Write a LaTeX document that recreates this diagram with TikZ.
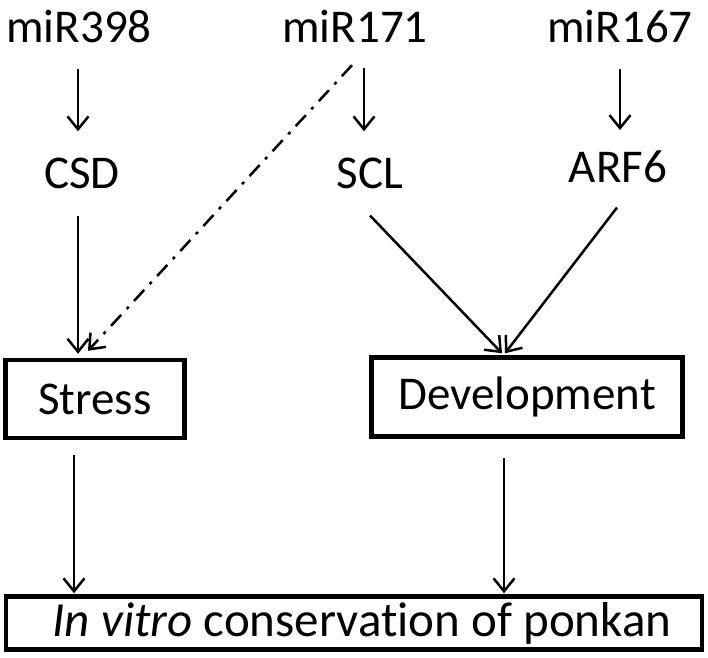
\documentclass[tikz,border=0pt]{standalone}
\usepackage{fontspec}
\setmainfont{Carlito}[Ligatures=NoCommon]
\usepackage{tikz}
\usetikzlibrary{positioning, arrows.meta}
\tikzset{
    labnode/.style={inner sep=0pt, anchor=base, font=\fontsize{47}{52}\selectfont},
    boxnode/.style={draw, line width=4.5pt, inner sep=0pt, font=\fontsize{47}{52}\selectfont},
    arr/.style={line width=2.5pt, -{Straight Barb[length=13pt, width=21pt, line width=2.5pt]}},
    dasharr/.style={arr, dash pattern=on 15pt off 8pt on 3pt off 8pt}
}

\begin{document}
\begin{tikzpicture}[x=1pt, y=-1pt]
    \useasboundingbox (0,0) rectangle (708,657);
    % microRNAs
    \node[labnode] (mir398) at (79,42) {miR398};
    \node[labnode] (mir171) at (355,42) {miR171};
    \node[labnode] (mir167) at (620,42) {miR167};
    % targets
    \node[labnode] (csd) at (82,188) {CSD};
    \node[labnode] (scl) at (370,188) {SCL};
    \node[labnode] (arf6) at (618,182) {ARF6};
    % processes
    \node[boxnode, minimum width=179pt, minimum height=78pt] (stress) at (95,399) {Stress};
    \node[boxnode, minimum width=311pt, minimum height=79pt] (dev) at (527,397) {Development};
    \node[boxnode, minimum width=696pt, minimum height=53pt, font=\fontsize{49}{54}\selectfont] (cons) at (354,623)
        {\hspace*{16pt}\textit{In vitro} conservation of ponkan};

    \draw[arr] ([xshift=-1pt,yshift=-26pt]mir398.south) -- ([xshift=-1pt,yshift=26pt]mir398.south |- csd.north);
    \draw[arr] ([xshift=-6pt,yshift=-26pt]scl.north |- mir171.south) -- ([xshift=-6pt,yshift=26pt]scl.north);
    \draw[arr] ([yshift=-26pt]mir167.south) -- ([yshift=20pt]mir167.south |- arf6.north);
    \draw[dasharr] ([xshift=-3pt,yshift=-23pt]mir171.south) -- ([xshift=-7pt,yshift=7pt]stress.north);
    \draw[arr] ([xshift=-4pt,yshift=-27pt]csd.south) -- ([xshift=-17pt,yshift=4pt]stress.north);
    \draw[arr] ([yshift=-27pt]scl.south) -- ([xshift=-25pt,yshift=2pt]dev.north);
    \draw[arr] ([xshift=-1pt,yshift=-25pt]arf6.south) -- ([xshift=-22pt,yshift=2pt]dev.north);
    \draw[arr] ([xshift=-21pt,yshift=-15pt]stress.south) -- ([xshift=-21pt,yshift=1pt]stress.south |- cons.north);
    \draw[arr] ([xshift=-23pt,yshift=-19pt]dev.south) -- ([xshift=-23pt,yshift=1pt]dev.south |- cons.north);
\end{tikzpicture}
\end{document}
